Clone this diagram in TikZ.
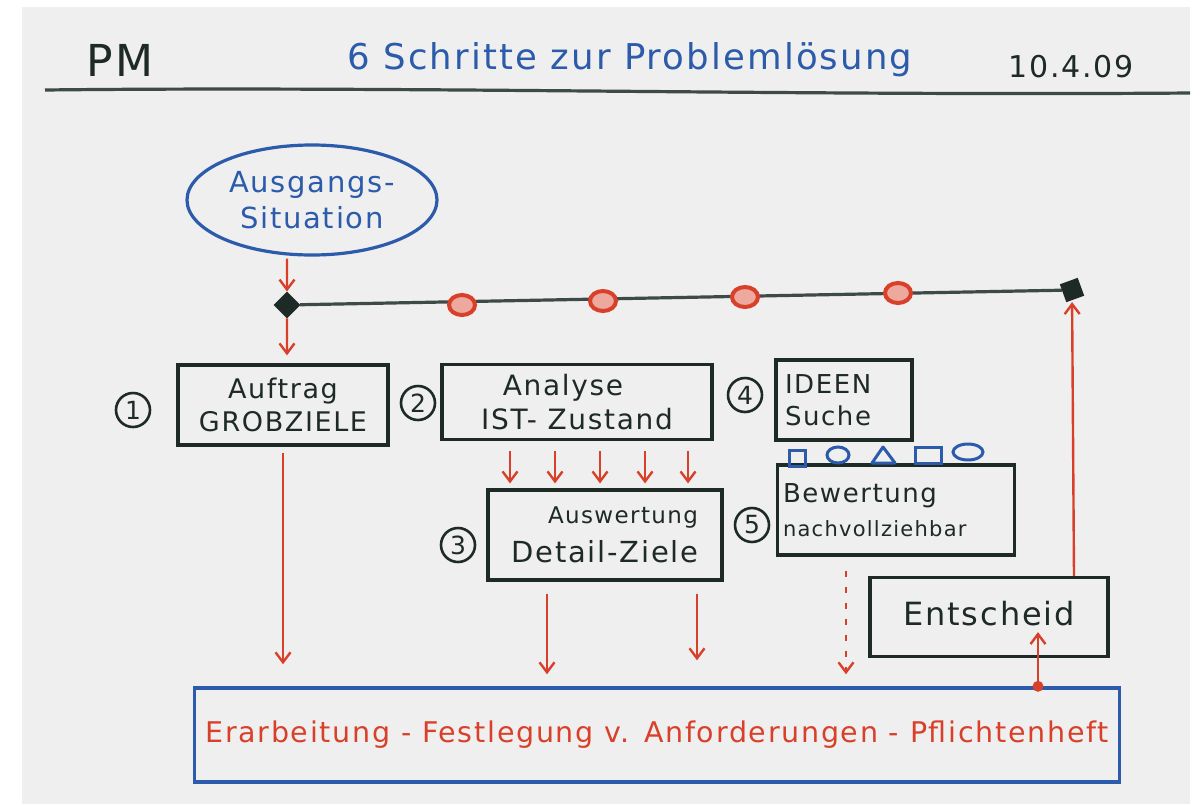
\documentclass[tikz,border=0pt]{standalone}
\usepackage{fontspec}
\setmainfont{DejaVu Sans}[LetterSpace=6]
\usetikzlibrary{arrows.meta,shapes.geometric,calc}
\definecolor{bg}{HTML}{EFEFEF}
\definecolor{pen}{HTML}{1E2A26}
\definecolor{linegray}{HTML}{3E4A48}
\definecolor{bluepen}{HTML}{2B5BAA}
\definecolor{redpen}{HTML}{D9402A}
\newcommand\fsize[2]{\fontsize{#1}{#2}\selectfont}
\tikzset{
  fsz/.style 2 args={font=\fsize{#1}{#2}},
  stepbox/.style={draw=pen, line width=3.2pt, text=pen, inner sep=4pt, align=center, fsz={27}{33}},
  numcirc/.style={circle, draw=pen, line width=2.6pt, minimum size=34pt, inner sep=0pt, text=pen, fsz={25}{28}},
  redarrow/.style={draw=redpen, line width=2.4pt, -{Straight Barb[length=10pt,width=15pt,line width=2.4pt]}},
  milestone/.style={ellipse, draw=redpen, line width=4pt, fill=redpen!45, minimum width=26pt, minimum height=20pt, inner sep=0pt},
  gate/.style={draw=pen, fill=pen, line width=2pt, minimum size=17pt, inner sep=0pt, rotate=45},
  shapepen/.style={draw=bluepen, line width=3pt},
}
\begin{document}
\begin{tikzpicture}[x=1pt,y=-1pt]
\useasboundingbox (0,0) rectangle (1202,804);
\fill[white] (0,0) rectangle (1202,804);
\fill[bg] (22,7) rectangle (1190,804);

% header
\node[text=pen, fsz={44}{50}] (pm) at (120,60) {PM};
\node[text=bluepen, fsz={35.5}{42}] (title) at (630,60) {6 Schritte zur Problemlösung};
\node[text=pen, fsz={30}{36}] (date) at (1071,67) {10.4.09};
\coordinate (hl) at (45,90);
\coordinate (hr) at (1190,93);
\draw[linegray, line width=3.2pt] (hl) .. controls (400,86) and (800,96) .. (hr);

% start ellipse
\node[ellipse, draw=bluepen, line width=3.2pt, minimum width=250pt, minimum height=110pt,
      text=bluepen, fsz={29}{36}, align=center, inner sep=0pt] (ell) at (312,200) {Ausgangs-\\Situation};

% timeline
\node[gate] (d1) at (287,305) {};
\node[gate, rotate=-25] (d2) at (1072,290) {};
\draw[linegray, line width=3.2pt] (d1) -- (d2);
\node[milestone] (m1) at (462,305) {};
\node[milestone] (m2) at (603,301) {};
\node[milestone] (m3) at (745,297) {};
\node[milestone] (m4) at (898,293) {};

% step boxes
\node[stepbox, minimum width=210pt, minimum height=80pt] (b1) at (283,405) {Auftrag\\GROBZIELE};
\node[numcirc] (n1) at (133,410) {1};
\node[stepbox, minimum width=270pt, minimum height=75pt, fsz={28}{34}] (b2) at (577,402) {\hspace*{-28pt}Analyse\\IST- Zustand};
\node[numcirc] (n2) at (418,403) {2};
\node[stepbox, minimum width=234pt, minimum height=90pt] (b3) at (605,535) {{\fsize{23}{27}\hspace*{36pt}Auswertung}\\[6pt]{\fsize{29}{32}Detail-Ziele}};
\node[numcirc] (n3) at (458,545) {3};
\node[stepbox, minimum width=136pt, minimum height=80pt, align=left, text width=118pt, fsz={26}{32}] (b4) at (844,400) {IDEEN\\Suche};
\node[numcirc] (n4) at (745,395) {4};
\node[stepbox, minimum width=237pt, minimum height=90pt, align=left, text width=226pt, fsz={26}{34}] (b5) at (896,510) {Bewertung\\{\fsize{21}{25}nachvollziehbar}};
\node[numcirc] (n5) at (752,525) {5};
\node[stepbox, minimum width=238pt, minimum height=79pt, fsz={32}{38}] (ent) at (989,617) {\raisebox{8pt}{Entscheid}};

% bottom box
\node[draw=bluepen, line width=3.4pt, minimum width=925pt, minimum height=94pt, inner sep=2pt, text=redpen, fsz={28.5}{34}] (bot) at (657,735)
  {Erarbeitung - Festlegung v. Anforderungen - Pflichtenheft};

% idea shapes
\draw[shapepen] (789,450) rectangle (805,466);
\draw[shapepen] (838,455) ellipse [x radius=11pt, y radius=8pt];
\draw[shapepen, line join=round] (872,463) -- (883,447) -- (895,463) -- cycle;
\draw[shapepen] (915,447) rectangle (941,463);
\draw[shapepen] (968,452) ellipse [x radius=15pt, y radius=8pt];

% arrows
\draw[redarrow, shorten <=2pt] (ell.south -| d1) -- (d1);
\draw[redarrow, shorten >=8pt] (d1) -- (d1 |- b1.north);
\draw[redarrow, shorten <=6pt, shorten >=22pt] (b1.south) -- (b1.south |- bot.north);
\foreach \xx in {510,555,600,645,688} {
  \coordinate (tx) at (\xx,0);
  \draw[redarrow, shorten <=10pt, shorten >=5pt] (b2.south -| tx) -- (b3.north -| tx);
}
\coordinate (t3a) at (547,0);
\coordinate (t3b) at (697,0);
\draw[redarrow, shorten <=12pt, shorten >=12pt] (b3.south -| t3a) -- (bot.north -| t3a);
\draw[redarrow, shorten <=12pt, shorten >=26pt] (b3.south -| t3b) -- (bot.north -| t3b);
\coordinate (t5) at (846,0);
\draw[redarrow, dash pattern=on 6pt off 10pt, shorten <=14pt, shorten >=12pt] (b5.south -| t5) -- (bot.north -| t5);
\coordinate (te) at (1074,0);
\draw[redarrow, shorten >=2pt] (ent.north -| te) -- (d2);
\coordinate (tb) at (1038,0);
\fill[redpen] (bot.north -| tb) circle (5.5pt);
\draw[redarrow] (bot.north -| tb) -- ([yshift=26pt]ent.south -| tb);
\end{tikzpicture}
\end{document}
